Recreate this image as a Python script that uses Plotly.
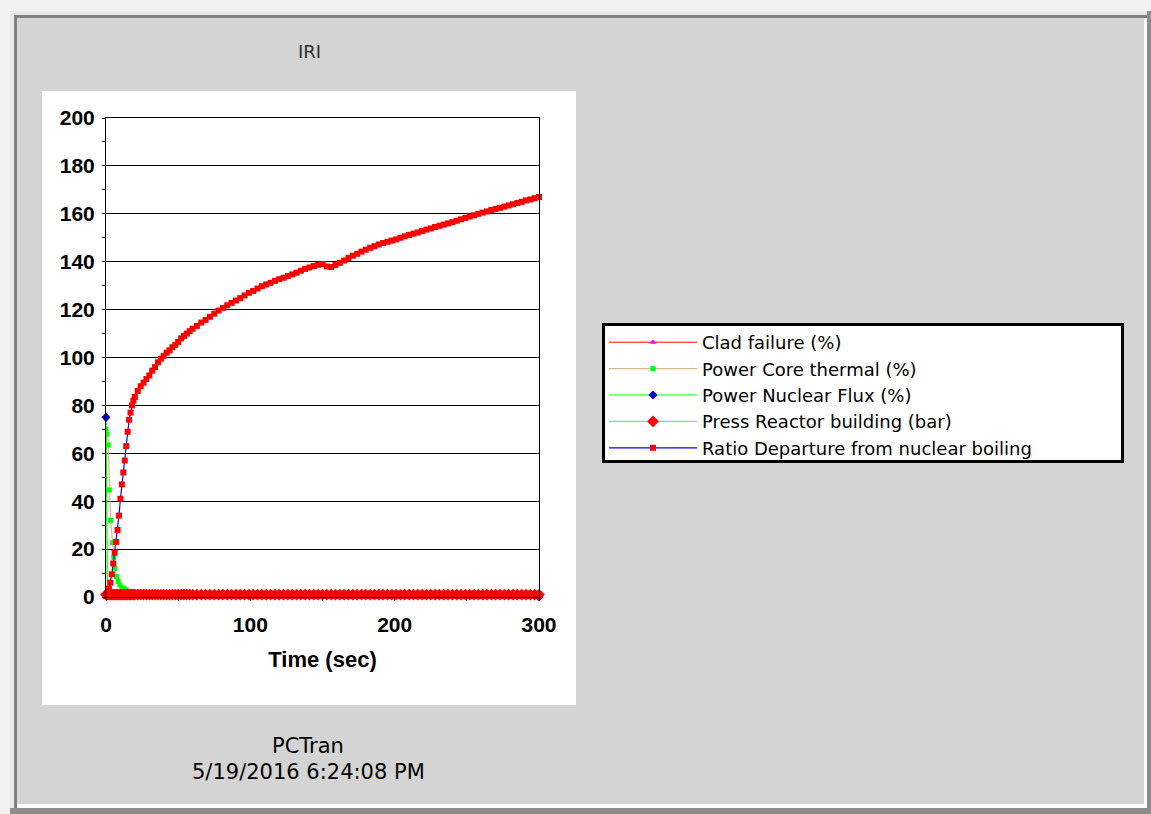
import plotly.graph_objects as go

W, H = 1151, 814

# ---------------- data ----------------
time_s = [
    0, 1, 2, 3, 4, 5, 6, 7, 8, 9, 10, 11, 12, 13, 14, 15, 16, 17, 18, 19, 20,
    22, 24, 26, 28, 30, 32, 34, 36, 38, 40, 42, 44, 46, 48, 50, 52, 54, 56, 58, 60,
    63, 66, 69, 72, 75, 78, 81, 84, 87, 90, 93, 96, 99, 102, 105, 108, 111, 114, 117, 120,
    123, 126, 129, 132, 135, 138, 141, 144, 147, 150, 153, 156, 159, 162, 165, 168, 171, 174, 177, 180,
    183, 186, 189, 192, 195, 198, 201, 204, 207, 210, 213, 216, 219, 222, 225, 228, 231, 234, 237, 240,
    243, 246, 249, 252, 255, 258, 261, 264, 267, 270, 273, 276, 279, 282, 285, 288, 291, 294, 297, 300,
]

ratio_dnb = [
    0.5, 1.5, 3.5, 6, 9.5, 14, 18.5, 23, 28, 34, 41, 47, 52, 57, 63, 69, 74, 77, 80, 82, 83.5,
    86, 88, 89.5, 91, 92.5, 94.5, 96, 98, 99.5, 100.7, 102, 103, 104.3, 105.3, 106.5, 108, 109, 110, 111, 112,
    113.2, 114.6, 115.7, 117, 118.3, 119.6, 120.7, 121.8, 122.8, 123.8, 124.8, 125.9, 127, 127.8, 128.8, 129.8, 130.5, 131.2, 132, 132.7,
    133.3, 134, 134.7, 135.4, 136.2, 137, 137.6, 138.2, 138.7, 139, 138, 137.8, 138.6, 139.5, 140.5, 141.6, 142.5, 143.3, 144.2, 145,
    145.8, 146.5, 147.2, 147.8, 148.3, 148.8, 149.3, 150, 150.6, 151.2, 151.7, 152.2, 152.8, 153.4, 153.9, 154.5, 155, 155.5, 156, 156.5,
    157.1, 157.7, 158.3, 158.9, 159.4, 160, 160.5, 161, 161.6, 162, 162.5, 163, 163.5, 164, 164.5, 165, 165.6, 166, 166.5, 167,
]

press_bar = [
    1.0, 1.0, 1.0, 1.0, 1.0, 1.0, 1.0, 1.0, 1.0, 1.0, 1.0, 1.0, 1.0, 1.0, 1.0, 1.0, 1.0, 1.0, 1.0, 1.0, 1.0,
    1.0, 1.0, 1.0, 1.0, 1.0, 1.0, 1.0, 1.0, 1.0, 1.0, 1.0, 1.0, 1.0, 1.0, 1.0, 1.0, 1.0, 1.0, 1.0, 1.0,
    1.0, 1.0, 1.0, 1.0, 1.0, 1.0, 1.0, 1.0, 1.0, 1.0, 1.0, 1.0, 1.0, 1.0, 1.0, 1.0, 1.0, 1.0, 1.0, 1.0,
    1.0, 1.0, 1.0, 1.0, 1.0, 1.0, 1.0, 1.0, 1.0, 1.0, 1.0, 1.0, 1.0, 1.0, 1.0, 1.0, 1.0, 1.0, 1.0, 1.0,
    1.0, 1.0, 1.0, 1.0, 1.0, 1.0, 1.0, 1.0, 1.0, 1.0, 1.0, 1.0, 1.0, 1.0, 1.0, 1.0, 1.0, 1.0, 1.0, 1.0,
    1.0, 1.0, 1.0, 1.0, 1.0, 1.0, 1.0, 1.0, 1.0, 1.0, 1.0, 1.0, 1.0, 1.0, 1.0, 1.0, 1.0, 1.0, 1.0, 1.0,
]

clad_pct = [
    0, 0, 0, 0, 0, 0, 0, 0, 0, 0, 0, 0, 0, 0, 0, 0, 0, 0, 0, 0, 0,
    0, 0, 0, 0, 0, 0, 0, 0, 0, 0, 0, 0, 0, 0, 0, 0, 0, 0, 0, 0,
    0, 0, 0, 0, 0, 0, 0, 0, 0, 0, 0, 0, 0, 0, 0, 0, 0, 0, 0, 0,
    0, 0, 0, 0, 0, 0, 0, 0, 0, 0, 0, 0, 0, 0, 0, 0, 0, 0, 0, 0,
    0, 0, 0, 0, 0, 0, 0, 0, 0, 0, 0, 0, 0, 0, 0, 0, 0, 0, 0, 0,
    0, 0, 0, 0, 0, 0, 0, 0, 0, 0, 0, 0, 0, 0, 0, 0, 0, 0, 0, 0,
]

core_t = [0, 0.8, 1.6, 2.3, 3.2, 4.6, 5.4, 6.2, 7.3, 8.5, 9.6, 11, 12.5, 14, 17, 20, 25, 30]
core_pct = [70, 68, 63.5, 44.7, 32, 22.7, 16.5, 12, 8.5, 6.5, 5, 4, 3.5, 3, 2.7, 2.5, 2.4, 2.3]

flux_t = [0, 0.3, 1, 2, 28, 30, 40, 42, 100, 200, 300]
flux_pct = [75, 40, 3.5, 3, 3, 2.5, 2.5, 0.5, 0.3, 0.2, 0]

series_names = [
    "Clad failure (%)",
    "Power Core thermal (%)",
    "Power Nuclear Flux (%)",
    "Press Reactor building (bar)",
    "Ratio Departure from nuclear boiling",
]

y_ticks = [0, 20, 40, 60, 80, 100, 120, 140, 160, 180, 200]
x_ticks = [0, 100, 200, 300]

# ---------------- helpers ----------------
def px(x):
    return x / W

def py(y):
    return 1 - y / H

fig = go.Figure()

fig.add_trace(go.Scatter(
    x=time_s, y=clad_pct, name=series_names[0], mode="lines+markers",
    line=dict(color="#ff0000", width=1),
    marker=dict(symbol="triangle-up", size=6, color="#ff00ff"),
    cliponaxis=False,
))

core_sel = [i for i, t in enumerate(core_t) if t <= 14]
fig.add_trace(go.Scatter(
    x=core_t, y=core_pct, name=series_names[1], mode="lines+markers",
    line=dict(color="#d8b890", width=1.2),
    marker=dict(symbol="square", size=5, color="#00ff00"),
    selectedpoints=core_sel, unselected=dict(marker=dict(opacity=0)),
))

fig.add_trace(go.Scatter(
    x=flux_t, y=flux_pct, name=series_names[2], mode="lines+markers",
    line=dict(color="#00ff00", width=1.2),
    marker=dict(symbol="diamond", size=7, color="#0000c8"),
    selectedpoints=[0, len(flux_t) - 1], unselected=dict(marker=dict(opacity=0)),
    cliponaxis=False,
))

fig.add_trace(go.Scatter(
    x=time_s, y=press_bar, name=series_names[3], mode="lines+markers",
    line=dict(color="#66dddd", width=1.2),
    marker=dict(symbol="diamond", size=9, color="#ff0000"),
    cliponaxis=False,
))

fig.add_trace(go.Scatter(
    x=time_s, y=ratio_dnb, name=series_names[4], mode="lines+markers",
    line=dict(color="#0000ff", width=1.2),
    marker=dict(symbol="square", size=6, color="#ff0000"),
    cliponaxis=False,
))

# ---------------- window frame / panels ----------------
shapes = [
    dict(type="rect", xref="paper", yref="paper", x0=px(10), x1=px(1151), y0=py(814), y1=py(11),
         fillcolor="#8c8c8c", line_width=0, layer="below"),
    dict(type="rect", xref="paper", yref="paper", x0=px(10), x1=px(1147), y0=py(808), y1=py(11),
         fillcolor="#e8e8e8", line_width=0, layer="below"),
    dict(type="rect", xref="paper", yref="paper", x0=px(14), x1=px(1147), y0=py(808), y1=py(15),
         fillcolor="#808080", line_width=0, layer="below"),
    dict(type="rect", xref="paper", yref="paper", x0=px(17), x1=px(1147), y0=py(808), y1=py(18),
         fillcolor="#ffffff", line_width=0, layer="below"),
    dict(type="rect", xref="paper", yref="paper", x0=px(17), x1=px(1144), y0=py(804), y1=py(18),
         fillcolor="#d4d4d4", line_width=0, layer="below"),
    dict(type="rect", xref="paper", yref="paper", x0=px(42), x1=px(576), y0=py(705), y1=py(91),
         fillcolor="#ffffff", line_width=0, layer="below"),
    # legend frame
    dict(type="rect", xref="paper", yref="paper", x0=px(603.5), x1=px(1122.5), y0=py(461.5), y1=py(324.5),
         fillcolor="#ffffff", line=dict(color="#000000", width=3), layer="below"),
]

annotations = [
    dict(text="IRI", x=px(309), y=py(51), xref="paper", yref="paper", showarrow=False,
         xanchor="center", yanchor="middle", font=dict(family="DejaVu Sans", size=18, color="#303030")),
    dict(text="PCTran", x=px(308), y=py(746), xref="paper", yref="paper", showarrow=False,
         xanchor="center", yanchor="middle", font=dict(family="DejaVu Sans", size=21, color="#000000")),
    dict(text="5/19/2016 6:24:08 PM", x=px(308), y=py(772), xref="paper", yref="paper", showarrow=False,
         xanchor="center", yanchor="middle", font=dict(family="DejaVu Sans", size=21, color="#000000")),
]

tick_font = dict(family="Liberation Sans", size=21, color="#000000", weight="bold")

fig.update_layout(
    template="none",
    width=W, height=H,
    autosize=False,
    margin=dict(l=0, r=0, t=0, b=0, pad=0, autoexpand=False),
    paper_bgcolor="#f2f2f2",
    plot_bgcolor="#ffffff",
    shapes=shapes,
    annotations=annotations,
    showlegend=True,
    legend=dict(
        x=px(604), y=py(324), xanchor="left", yanchor="top",
        bgcolor="rgba(0,0,0,0)", borderwidth=0,
        font=dict(family="DejaVu Sans", size=18, color="#000000"),
        itemwidth=88, traceorder="normal",
    ),
    xaxis=dict(
        domain=[px(106), px(539)], range=[0, 300], automargin=False,
        tickvals=x_ticks, ticktext=[str(v) for v in x_ticks],
        ticks="outside", ticklen=3, tickcolor="#000000",
        minor=dict(dtick=50, ticks="outside", ticklen=3, tickcolor="#000000", showgrid=False),
        showgrid=False, zeroline=False,
        showline=True, linecolor="#000000", linewidth=1, mirror=True,
        tickfont=tick_font, ticklabelstandoff=6,
        title=dict(text="Time (sec)", standoff=16,
                   font=dict(family="Liberation Sans", size=22, color="#000000", weight="bold")),
    ),
    yaxis=dict(
        domain=[py(597), py(118)], range=[0, 200], automargin=False,
        tickvals=y_ticks, ticktext=[str(v) for v in y_ticks],
        ticks="outside", ticklen=3, tickcolor="#000000",
        minor=dict(dtick=10, ticks="outside", ticklen=3, tickcolor="#000000", showgrid=False),
        showgrid=True, gridcolor="#000000", gridwidth=1, zeroline=False,
        showline=True, linecolor="#000000", linewidth=1, mirror=True,
        tickfont=tick_font, ticklabelstandoff=3,
    ),
)

fig.write_html("out.html", config={"displayModeBar": False},
               post_script="document.body.style.margin='0';")
